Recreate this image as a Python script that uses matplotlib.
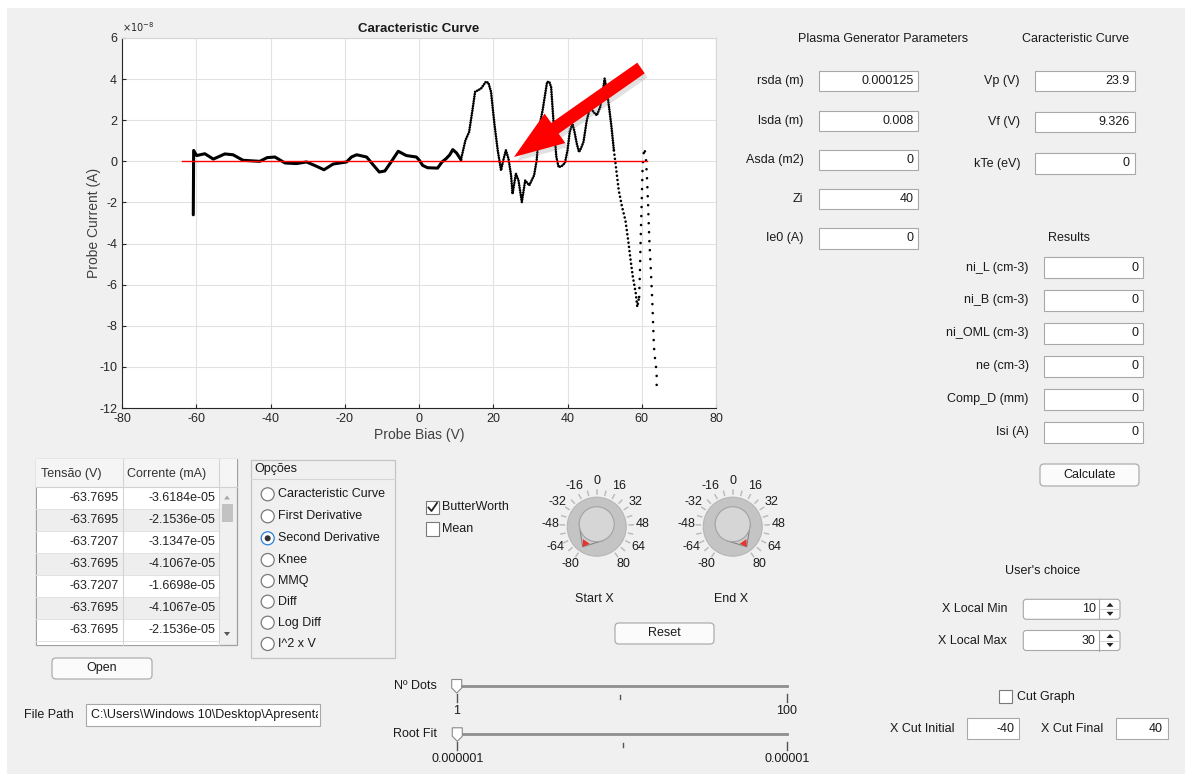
import numpy as np
import matplotlib
matplotlib.use('Agg')
import matplotlib.pyplot as plt
from matplotlib.patches import Rectangle, Circle, Polygon, FancyBboxPatch
from matplotlib.lines import Line2D
from matplotlib.transforms import Affine2D, Bbox

plt.rcParams['font.family'] = ['Liberation Sans', 'DejaVu Sans']
plt.rcParams['axes.unicode_minus'] = False

# ---------------- data ----------------
bias_v = [-60.8, -60.7, -59.9, -57.7, -55.4, -52.3, -50.1, -47.4, -42.9, -40.9,
          -38.8, -36.1, -33.0, -30.3, -27.6, -25.6, -23.1, -19.5, -18.2, -16.8,
          -14.1, -12.4, -10.7, -9.2, -7.4, -5.6, -3.4, -0.7, 0.1, 1.0,
          2.3, 5.0, 6.2, 7.3, 8.3, 9.1, 10.1, 11.3, 12.5, 13.5,
          14.4, 15.1, 16.7, 18.0, 18.7, 19.4, 20.3, 21.2, 22.1, 22.7,
          23.4, 24.1, 24.8, 25.2, 26.1, 26.8, 27.7, 28.6, 29.7, 31.0,
          31.7, 32.4, 33.3, 34.5, 35.1, 35.6, 36.2, 37.0, 37.6, 38.4,
          39.3, 40.0, 40.6, 41.3, 41.8, 42.5, 43.1, 43.6, 44.3, 45.2,
          46.1, 47.0, 47.9, 48.8, 49.5, 50.0, 50.6, 51.3, 51.8, 52.5,
          53.1, 53.8, 54.7, 55.6, 56.4, 57.0, 57.6, 58.4, 58.8, 59.3,
          59.5, 59.7, 60.0, 60.2, 60.4, 60.7, 61.1, 61.4, 61.7, 62.0,
          62.5, 62.9, 63.2, 63.4, 63.8, 64.1, 63.9]
# probe current in units of 1e-8 A
current_e8 = [-2.6, 0.53, 0.28, 0.37, 0.11, 0.36, 0.32, 0.05, 0.0, 0.18,
              0.21, -0.08, -0.11, -0.03, -0.24, -0.41, -0.13, -0.03, 0.21, 0.32,
              0.21, -0.16, -0.52, -0.47, 0.0, 0.49, 0.28, 0.21, 0.05, -0.2,
              -0.31, -0.33, -0.03, 0.13, 0.32, 0.57, 0.41, 0.08, 1.02, 1.43,
              2.49, 3.38, 3.54, 3.87, 3.82, 3.38, 1.84, 0.54, -0.44, 0.05,
              0.54, 0.13, -0.68, -1.58, -0.6, -0.93, -1.98, -0.93, -1.17, -0.68,
              0.05, 1.67, 2.49, 3.86, 3.87, 3.6, 2.0, 0.21, -0.28, -0.24,
              -0.08, 0.53, 1.43, 1.83, 1.51, 0.86, 0.45, 0.62, 0.94, 2.0,
              2.64, 2.4, 2.24, 2.64, 3.37, 4.02, 3.45, 2.48, 1.75, 0.53,
              -0.36, -1.41, -2.22, -2.87, -3.92, -4.81, -5.62, -6.43, -7.08, -6.6,
              -5.46, -3.84, -1.9, -0.44, 0.21, 0.66, 0.21, -0.76, -2.06, -3.68,
              -5.46, -7.08, -8.62, -9.35, -9.9, -10.65, -11.2]
zero_line_v = [-63.77, 61.3]
zero_line_a = [0.0, 0.0]
x_ticks = [-80, -60, -40, -20, 0, 20, 40, 60, 80]
y_ticks_e8 = [-12, -10, -8, -6, -4, -2, 0, 2, 4, 6]

table_tensao = [-63.7695, -63.7695, -63.7207, -63.7695, -63.7207, -63.7695, -63.7695]
table_corrente = [-3.6184e-05, -2.1536e-05, -3.1347e-05, -4.1067e-05, -1.6698e-05,
                  -4.1067e-05, -2.1536e-05]
table_headers = ['Tensão (V)', 'Corrente (mA)']

options = ['Caracteristic Curve', 'First Derivative', 'Second Derivative', 'Knee',
           'MMQ', 'Diff', 'Log Diff', 'I^2 x V']
selected_option = 2

plasma_labels = ['rsda (m)', 'lsda (m)', 'Asda (m2)', 'Zi', 'Ie0 (A)']
plasma_values = ['0.000125', '0.008', '0', '40', '0']
curve_labels = ['Vp (V)', 'Vf (V)', 'kTe (eV)']
curve_values = ['23.9', '9.326', '0']
result_labels = ['ni_L (cm-3)', 'ni_B (cm-3)', 'ni_OML (cm-3)', 'ne (cm-3)',
                 'Comp_D (mm)', 'Isi (A)']
result_values = ['0', '0', '0', '0', '0', '0']

knob_ticks = [-80, -64, -48, -32, -16, 0, 16, 32, 48, 64, 80]
start_x = -80
end_x = 80
x_local_min = 10
x_local_max = 30
x_cut_initial = -40
x_cut_final = 40
file_path = 'C:\\Users\\Windows 10\\Desktop\\Apresentação'

# ---------------- figure ----------------
W, H = 1185, 774
fig = plt.figure(figsize=(W / 100, H / 100), dpi=100, facecolor='white')
PX = Affine2D().scale(1 / W, -1 / H).translate(0, 1) + fig.transFigure
TXT = '#1a1a1a'


def txt(x, y, s, ha='left', va='center', size=9, color=TXT, weight='normal', z=5):
    return fig.text(x, y, s, ha=ha, va=va, fontsize=size, color=color,
                    fontweight=weight, transform=PX, zorder=z)


def box(x0, y0, x1, y1, fc='white', ec='#a8a8a8', lw=0.8, z=2):
    p = Rectangle((x0, y0), x1 - x0, y1 - y0, transform=PX, fc=fc, ec=ec, lw=lw, zorder=z)
    fig.add_artist(p)
    return p


def line(xs, ys, color='#888888', lw=1.0, z=3):
    fig.add_artist(Line2D(xs, ys, transform=PX, color=color, lw=lw, zorder=z))


def button(x0, y0, x1, y1, label):
    p = FancyBboxPatch((x0, y0), x1 - x0, y1 - y0, boxstyle='round,pad=0,rounding_size=4',
                       transform=PX, fc='#fbfbfb', ec='#adadad', lw=0.9, zorder=2)
    fig.add_artist(p)
    txt((x0 + x1) / 2, (y0 + y1) / 2, label, ha='center')


def edit(x0, y0, x1, y1, value):
    box(x0, y0, x1, y1)
    txt(x1 - 5, (y0 + y1) / 2, value, ha='right')


# background panel
box(7, 8, W, H, fc='#f0f0f0', ec='none', lw=0, z=-10)

# ---------------- axes ----------------
ax = fig.add_axes([122 / W, 1 - 408 / H, 594 / W, 370 / H])
ax.set_facecolor('white')
bx = np.array(bias_v)
cy = np.array(current_e8)
i1 = int(np.argmin(np.abs(bx - 11.3)))
i2 = int(np.argmin(np.abs(bx - 52.5)))
i3 = int(np.argmin(np.abs(bx - 59.3)))
ax.plot(bx[:i1 + 1], cy[:i1 + 1], color='black', lw=2.2, solid_capstyle='round',
        solid_joinstyle='round', zorder=2)
for a, b, gap in [(i1, i2, 0.9), (i2, i3, 1.6), (i3, len(bx) - 1, 3.4)]:
    ax.plot(bx[a:b + 1], cy[a:b + 1], color='black', lw=1.9,
            linestyle=(0, (0.01, gap)), dash_capstyle='round', zorder=2)
ax.plot(zero_line_v, zero_line_a, color='#ff0000', lw=1.0, zorder=3)

ax.set_xlim(-80, 80)
ax.set_ylim(-12, 6)
ax.set_xticks(x_ticks)
ax.set_yticks(y_ticks_e8)
ax.text(0.0, 1.012, r'$\times10^{-8}$', transform=ax.transAxes, fontsize=7,
        color='#262626', ha='left', va='bottom')
ax.grid(True, color='#e2e2e2', lw=0.8)
ax.set_axisbelow(True)
for s in ['left', 'bottom']:
    ax.spines[s].set_color('#262626')
    ax.spines[s].set_linewidth(0.8)
for s in ['top', 'right']:
    ax.spines[s].set_color('#d6d6d6')
    ax.spines[s].set_linewidth(0.8)
ax.tick_params(direction='in', length=3, width=0.8, colors='#262626', labelsize=9,
               top=False, right=False)
ax.set_title('Caracteristic Curve', fontsize=9.5, fontweight='bold', color=TXT, pad=4)
ax.set_xlabel('Probe Bias (V)', fontsize=10, color='#404040', labelpad=2)
ax.set_ylabel('Probe Current (A)', fontsize=10, color='#404040')
ax.yaxis.set_label_coords(-0.036, 0.5)

# red arrow annotation (pixel coords)
tip = np.array([514.0, 157.0])
tail = np.array([641.0, 68.0])
u = (tip - tail) / np.linalg.norm(tip - tail)
n = np.array([-u[1], u[0]])
L, hh, hs = 50.0, 18.0, 6.5
base = tip - u * L
arrow_pts = [tail + n * hs, base + n * hs, base + n * hh, tip, base - n * hh,
             base - n * hs, tail - n * hs]
shadow = [p + np.array([3.0, 4.0]) for p in arrow_pts]
fig.add_artist(Polygon(shadow, closed=True, transform=PX, fc='#7a7a7a', ec='none',
                       alpha=0.22, zorder=9))
fig.add_artist(Polygon(arrow_pts, closed=True, transform=PX, fc='#ff0000', ec='none',
                       zorder=10))

# ---------------- right panels ----------------
txt(882.7, 39, 'Plasma Generator Parameters', ha='center')
txt(1076, 39, 'Caracteristic Curve', ha='center')
for lab, val, yc in zip(plasma_labels, plasma_values, [81, 121, 160, 199, 238.3]):
    txt(803.3, yc, lab, ha='right')
    edit(819, yc - 10.3, 918.3, yc + 10.3, val)
for lab, val, yc in zip(curve_labels, curve_values, [81, 122, 163.5]):
    txt(1020, yc, lab, ha='right')
    edit(1035.3, yc - 10.3, 1134.7, yc + 10.3, val)
txt(1069.3, 238.3, 'Results', ha='center')
for lab, val, yc in zip(result_labels, result_values,
                        [267.7, 300.3, 333.3, 366.3, 399, 432.3]):
    txt(1028.7, yc, lab, ha='right')
    edit(1044, yc - 10.5, 1143.3, yc + 10.5, val)
button(1040, 464, 1139, 486, 'Calculate')

# user's choice
txt(1042.7, 570.7, "User's choice", ha='center')
for lab, val, yc in [('X Local Min', x_local_min, 609.3), ('X Local Max', x_local_max, 640.5)]:
    txt(1007.3, yc, lab, ha='right')
    p = FancyBboxPatch((1023.3, yc - 10), 96.7, 20, boxstyle='round,pad=0,rounding_size=3',
                       transform=PX, fc='white', ec='#a8a8a8', lw=0.8, zorder=2)
    fig.add_artist(p)
    line([1099.3, 1099.3], [yc - 10, yc + 10], color='#a8a8a8', lw=0.8)
    line([1099.3, 1120], [yc, yc], color='#c8c8c8', lw=0.6)
    fig.add_artist(Polygon([(1106.5, yc - 2.5), (1113.5, yc - 2.5), (1110, yc - 6.5)],
                           transform=PX, fc='#222222', ec='none', zorder=4))
    fig.add_artist(Polygon([(1106.5, yc + 2.5), (1113.5, yc + 2.5), (1110, yc + 6.5)],
                           transform=PX, fc='#222222', ec='none', zorder=4))
    txt(1095.7, yc, str(val), ha='right')

box(999.3, 690, 1012.3, 703.3, fc='white', ec='#7a7a7a')
txt(1016.7, 696.7, 'Cut Graph')
txt(890, 729, 'X Cut Initial')
edit(966.7, 718, 1019.3, 739, str(x_cut_initial))
txt(1041, 729, 'X Cut Final')
edit(1115.7, 718, 1168, 739, str(x_cut_final))

# ---------------- table ----------------
tx0, tx1, ty0, ty1 = 36, 237, 459, 645
c1, c2 = 122.7, 219
box(tx0, ty0, tx1, ty1, fc='#f0f0f0', ec='#a0a0a0', lw=0.9, z=1)
box(tx0, ty0, tx1, 487, fc='#f5f5f5', ec='none', lw=0, z=1.5)
line([tx0, tx1], [487, 487], color='#d0d0d0', lw=0.8)
txt(40.7, 474, table_headers[0], color='#333333')
txt(126.7, 474, table_headers[1], color='#333333')
row_h = 22
for i, (tv, cv) in enumerate(zip(table_tensao, table_corrente)):
    y0 = 487 + i * row_h
    fc = 'white' if i % 2 == 0 else '#eeeeee'
    box(tx0 + 0.5, y0, c2, y0 + row_h, fc=fc, ec='none', lw=0, z=1.6)
    line([tx0, c2], [y0 + row_h, y0 + row_h], color='#e2e2e2', lw=0.7)
    txt(119, y0 + row_h / 2, '%.4f' % tv, ha='right', color='#222222')
    txt(215.7, y0 + row_h / 2, '%.4e' % cv, ha='right', color='#222222')
box(tx0 + 0.5, 487 + 7 * row_h, c2, ty1 - 0.5, fc='white', ec='none', lw=0, z=1.6)
line([c1, c1], [ty0, ty1], color='#d4d4d4', lw=0.8)
line([c2, c2], [ty0, ty1], color='#d4d4d4', lw=0.8)
box(222, 504, 233, 522, fc='#c2c2c2', ec='none', lw=0, z=3)
fig.add_artist(Polygon([(224, 499.5), (230, 499.5), (227, 495.5)], transform=PX,
                       fc='#a8a8a8', ec='none', zorder=4))
fig.add_artist(Polygon([(224, 632), (230, 632), (227, 636)], transform=PX,
                       fc='#555555', ec='none', zorder=4))

# ---------------- options panel ----------------
box(250.7, 460, 395, 658, fc='none', ec='#c4c4c4', lw=0.9, z=1)
line([250.7, 395], [479, 479], color='#d6d6d6', lw=0.8)
txt(254, 469, 'Opções')
radio_y = [494.3, 516.3, 538.3, 560, 581, 601.7, 622.7, 644]
for k, (opt, yc) in enumerate(zip(options, radio_y)):
    sel = (k == selected_option)
    fig.add_artist(Circle((267.7, yc), 6.5, transform=PX, fc='white',
                          ec='#2a7fd4' if sel else '#7a7a7a', lw=0.9, zorder=3))
    if sel:
        fig.add_artist(Circle((267.7, yc), 3.0, transform=PX, fc='#333333',
                              ec='none', zorder=4))
    txt(278.3, yc, opt)

# ---------------- filter checkboxes ----------------
box(425.7, 500.7, 439.3, 514, fc='white', ec='#7a7a7a')
line([428.5, 431.5, 437], [507.5, 511, 503], color='#222222', lw=1.3, z=4)
txt(442.3, 507.3, 'ButterWorth')
box(425.7, 522, 439.3, 535.7, fc='white', ec='#7a7a7a')
txt(442.3, 528.5, 'Mean')


# ---------------- knobs ----------------
def knob(cx, cy, value, label):
    kk = 145.0 / 80.0

    def pt(r, v, c=(cx, cy)):
        th = np.deg2rad(90 - v * kk)
        return np.array([c[0] + r * np.cos(th), c[1] - r * np.sin(th)])

    for v in range(-80, 81, 8):
        p1, p2 = pt(32.5, v), pt(36.5, v)
        line([p1[0], p2[0]], [p1[1], p2[1]], color='#bcbcbc', lw=1.1)
    for v in knob_ticks:
        p = pt(46, v)
        txt(p[0], p[1], str(v), ha='center')
    fig.add_artist(Circle((cx, cy), 29.5, transform=PX, fc='#c4c4c4', ec='#b6b6b6',
                          lw=0.8, zorder=3))
    ic = (cx, cy - 2.5)
    ri = 17.5
    tp = pt(24.5, value)
    a1 = pt(ri, value + 55 / kk, ic)
    a2 = pt(ri, value - 55 / kk, ic)
    fig.add_artist(Polygon([a1, tp, a2], transform=PX, fc='#cbcbcb', ec='#7c7c7c',
                           lw=0.7, zorder=3.5))
    fig.add_artist(Circle(ic, ri, transform=PX, fc='#d6d6d6', ec='#a2a2a2', lw=0.8,
                          zorder=4))
    r1, r2 = pt(18.5, value + 7), pt(18.5, value - 7)
    fig.add_artist(Polygon([tp, r1, r2], transform=PX, fc='#e8322b', ec='none',
                           zorder=4.5))
    txt(cx - 2, 599, label, ha='center')


knob(596.7, 526.7, start_x, 'Start X')
knob(732.7, 526.7, end_x, 'End X')
button(615, 623, 714, 644, 'Reset')


# ---------------- sliders ----------------
def slider(y, x0, x1, xm, lo_lab, hi_lab, name, name_x):
    line([x0, x1], [y, y], color='#8e8e8e', lw=2.0, z=3)
    line([x0, x0], [y + 7.5, y + 16], color='#555555', lw=1.0)
    line([x1, x1], [y + 7.5, y + 16], color='#555555', lw=1.0)
    line([xm, xm], [y + 9, y + 12.5], color='#555555', lw=1.0)
    txt(x0, y + 25, lo_lab, ha='center')
    txt(x1, y + 25, hi_lab, ha='center')
    th = [(x0 - 5, y - 6.5), (x0 + 5, y - 6.5), (x0 + 5, y + 2), (x0, y + 7), (x0 - 5, y + 2)]
    fig.add_artist(Polygon(th, transform=PX, fc='white', ec='#8a8a8a', lw=0.8, zorder=4))
    txt(name_x, y, name)


slider(686, 456.7, 786.7, 620, '1', '100', 'Nº Dots', 394)
slider(734.3, 457.3, 787.3, 623.3, '0.000001', '0.00001', 'Root Fit', 393.3)

# ---------------- bottom left ----------------
button(52, 658, 152, 679, 'Open')
txt(24, 715, 'File Path')
box(86, 704, 320, 726)
t = txt(91, 715, file_path)
t.set_clip_box(Bbox.from_extents(86, H - 726, 318, H - 704))
t.set_clip_on(True)

fig.savefig('out.png', dpi=100, facecolor=fig.get_facecolor())
